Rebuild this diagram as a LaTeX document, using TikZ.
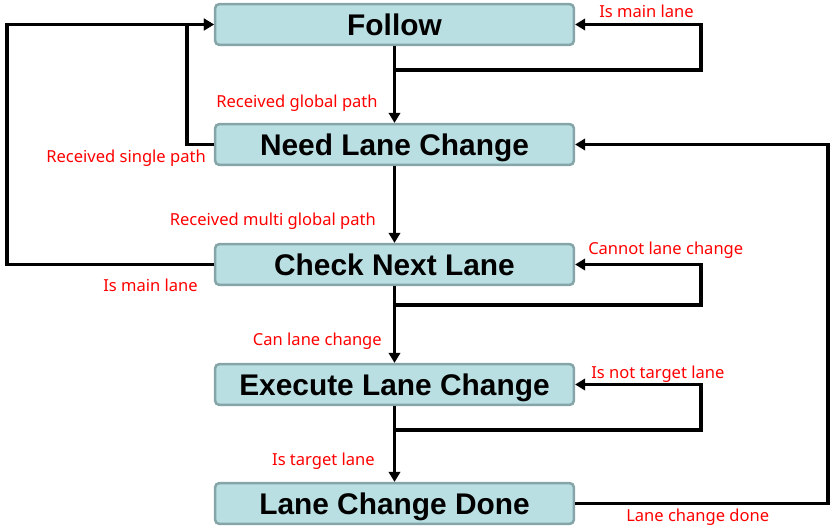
\documentclass[tikz,border=0pt]{standalone}
\usepackage{fontspec}
\usepackage{tikz}
\usetikzlibrary{arrows.meta}
\setmainfont{Liberation Sans}
\newfontfamily\labelfont{Noto Sans}

\definecolor{boxfill}{RGB}{185,223,227}
\definecolor{boxline}{RGB}{134,165,168}
\definecolor{labelred}{RGB}{255,0,0}

\tikzset{
  statebox/.style={draw=boxline, fill=boxfill, line width=1.9pt, rounded corners=3pt,
    minimum width=269pt, minimum height=30.5pt, inner sep=0pt, text depth=0pt, text height=16pt,
    font=\fontsize{22.4}{24}\selectfont\bfseries},
  link/.style={line width=2.4pt, line join=miter},
  arr/.style={link, -{Triangle[length=7.5pt,width=8.5pt]}},
  lbl/.style={text=labelred, inner sep=0.75pt, font=\labelfont\fontsize{12.4}{14}\selectfont}
}

\begin{document}
\begin{tikzpicture}[x=0.75pt,y=0.75pt,yscale=-1,xscale=1]
\useasboundingbox (0,0) rectangle (838,530);

% States
\node[statebox] (follow) at (394.5,24.5) {Follow};
\node[statebox] (need) at (394.5,144.5) {Need Lane Change};
\node[statebox] (check) at (394.5,264.5) {Check Next Lane};
\node[statebox] (exec) at (394.5,384.5) {Execute Lane Change};
\node[statebox] (done) at (394.5,503.5) {Lane Change Done};

% Straight transitions
\draw[arr] (follow.south) -- (need.north);
\draw[arr] (need.south) -- (check.north);
\draw[arr] (check.south) -- (exec.north);
\draw[arr] (exec.south) -- (done.north);

% Self loops
\coordinate (floop) at (394.5,70);
\coordinate (cloop) at (394.5,305);
\coordinate (eloop) at (394.5,430);
\draw[arr] (floop) -- (701,70) |- (follow.east);
\draw[arr] (cloop) -- (701,305) |- (check.east);
\draw[arr] (eloop) -- (701,430) |- (exec.east);

% Back transitions
\draw[arr] (need.west) -- (187,144.5) |- (follow.west);
\draw[arr] (check.west) -- (7,264.5) |- (follow.west);
\draw[arr] (done.east) -- (828,503.5) |- (need.east);

% Labels
\node[lbl, anchor=west] (lglobal) at (215,103.5) {Received global path};
\node[lbl, anchor=west] (lmainf) at (598,11.5) {Is main lane};
\node[lbl, anchor=east] (lsingle) at (207,158.5) {Received single path};
\node[lbl, anchor=east] (lmulti) at (377,221.5) {Received multi global path};
\node[lbl, anchor=west] (lcannot) at (587,250.5) {Cannot lane change};
\node[lbl, anchor=east] (lmainc) at (199,285.5) {Is main lane};
\node[lbl, anchor=east] (lcan) at (383,341.5) {Can lane change};
\node[lbl, anchor=west] (lnottarget) at (590,374.5) {Is not target lane};
\node[lbl, anchor=east] (ltarget) at (376,461.5) {Is target lane};
\node[lbl, anchor=west] (ldone) at (625,517.5) {Lane change done};

\end{tikzpicture}
\end{document}
